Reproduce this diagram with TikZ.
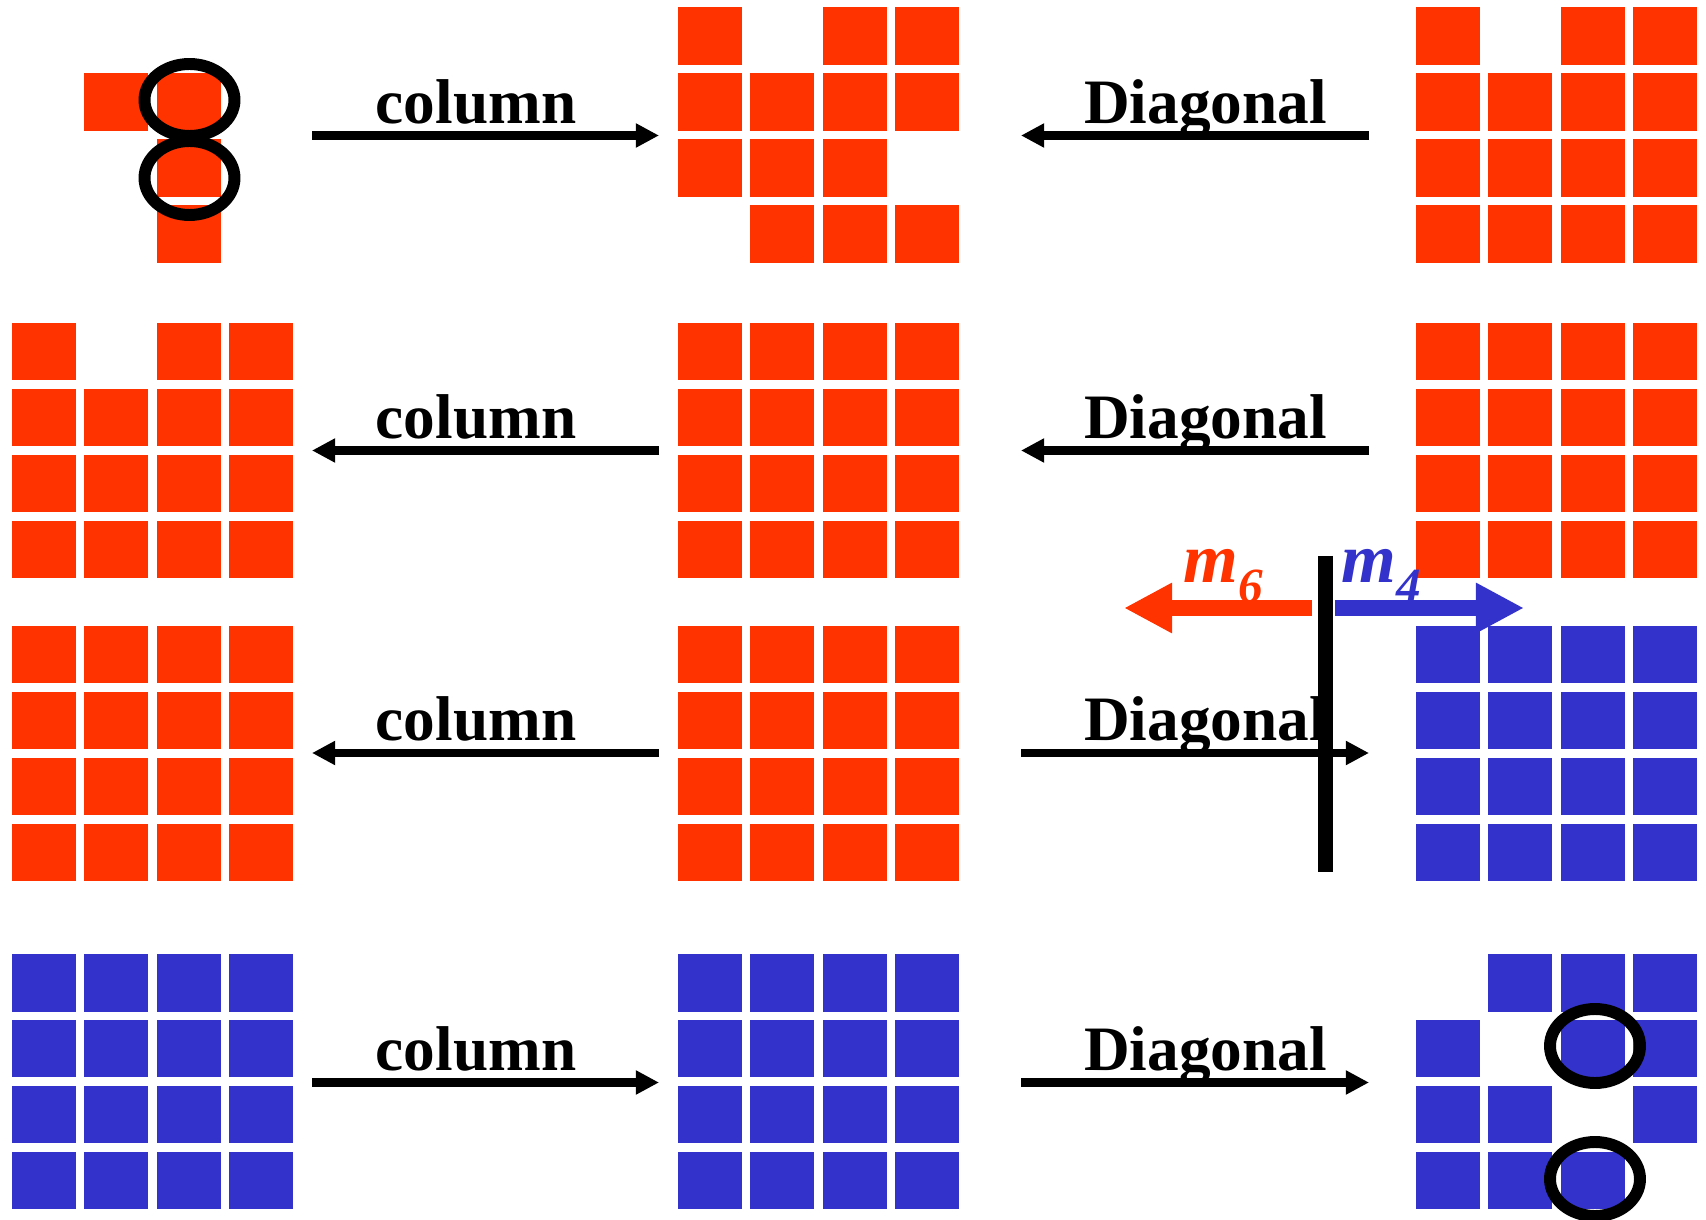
\documentclass[tikz,border=0pt]{standalone}
\usepackage{fontspec}
\setmainfont{Liberation Serif}
\usepackage{xcolor}
\usetikzlibrary{arrows.meta}
\definecolor{cellred}{RGB}{255,51,0}
\definecolor{cellblue}{RGB}{51,51,204}
\newcommand{\allcells}{1/1,1/2,1/3,1/4,2/1,2/2,2/3,2/4,3/1,3/2,3/3,3/4,4/1,4/2,4/3,4/4}
\newcommand{\gapcells}{1/1,1/3,1/4,2/1,2/2,2/3,2/4,3/1,3/2,3/3,3/4,4/1,4/2,4/3,4/4}
% colour, left, top, list of row/col
\newcommand{\cellblock}[4]{%
  \edef\celllist{#4}%
  \foreach \r/\c in \celllist {\fill[#1] ({#2+72.3*(\c-1)},{#3+65.9*(\r-1)}) rectangle ++(64,57.5);}}
\newcommand{\msub}[1]{m\raisebox{-5.5pt}{\fontsize{14}{14}\selectfont #1}}

\begin{document}
\begin{tikzpicture}[x=0.1mm,y=-0.1mm,
    flow/.style={line width=2.3pt,-{Triangle[length=6.6pt,width=6.5pt]}},
    block/.style={line width=4.55pt,-{Triangle[length=13.7pt,width=13.4pt]}},
    ring/.style={line width=3.4pt},
    lbl/.style={font=\fontsize{18}{22}\selectfont\bfseries,anchor=base,inner sep=0pt},
    mlbl/.style={font=\fontsize{20}{24}\selectfont\bfseries\itshape,anchor=base west,inner sep=0pt}]
  \useasboundingbox (0,0) rectangle (1706,1220);

  \cellblock{cellred}{12}{7.5}{2/2,2/3,3/3,4/3}
  \cellblock{cellred}{678}{7.5}{1/1,1/3,1/4,2/1,2/2,2/3,2/4,3/1,3/2,3/3,4/2,4/3,4/4}
  \cellblock{cellred}{1416}{7.5}{\gapcells}
  \cellblock{cellred}{12}{323}{\gapcells}
  \cellblock{cellred}{678}{323}{\allcells}
  \cellblock{cellred}{1416}{323}{\allcells}
  \cellblock{cellred}{12}{626}{\allcells}
  \cellblock{cellred}{678}{626}{\allcells}
  \cellblock{cellblue}{1416}{626}{\allcells}
  \cellblock{cellblue}{12}{954}{\allcells}
  \cellblock{cellblue}{678}{954}{\allcells}
  \cellblock{cellblue}{1416}{954}{1/2,1/3,1/4,2/1,2/3,2/4,3/1,3/2,3/4,4/1,4/2,4/3}

  \foreach \i/\y in {1/135.5,2/450.5,3/753,4/1082.5} {
    \coordinate (c\i w) at (312,\y);
    \coordinate (c\i e) at (659,\y);
    \coordinate (d\i w) at (1021,\y);
    \coordinate (d\i e) at (1369,\y);
    \node[lbl] (lc\i) at (476,\y-12) {column};
    \node[lbl] (ld\i) at (1205.5,\y-12) {Diagonal};
  }
  \foreach \a/\b in {c1w/c1e,d1e/d1w,c2e/c2w,d2e/d2w,c3e/c3w,d3w/d3e,c4w/c4e,d4w/d4e}
    \draw[flow] (\a) -- (\b);

  \node[mlbl,text=cellred] (m6) at (1183,583) {\msub{6}};
  \node[mlbl,text=cellblue] (m4) at (1341,583) {\msub{4}};
  \coordinate (rs) at (1312,608);
  \coordinate (rt) at (1124,608);
  \coordinate (bs) at (1335,608);
  \coordinate (bt) at (1524,608);
  \draw[block,cellred] (rs) -- (rt);
  \draw[block,cellblue] (bs) -- (bt);
  \coordinate (cut1) at (1325,556);
  \coordinate (cut2) at (1325,872);
  \draw[line width=4.27pt] (cut1) -- (cut2);

  \draw[ring] (189.5,100) ellipse (45 and 36);
  \draw[ring] (189.5,178) ellipse (45 and 37);
  \draw[ring] (1595,1046) ellipse (45 and 37);
  \draw[ring] (1595,1179) ellipse (45 and 37);
\end{tikzpicture}
\end{document}
